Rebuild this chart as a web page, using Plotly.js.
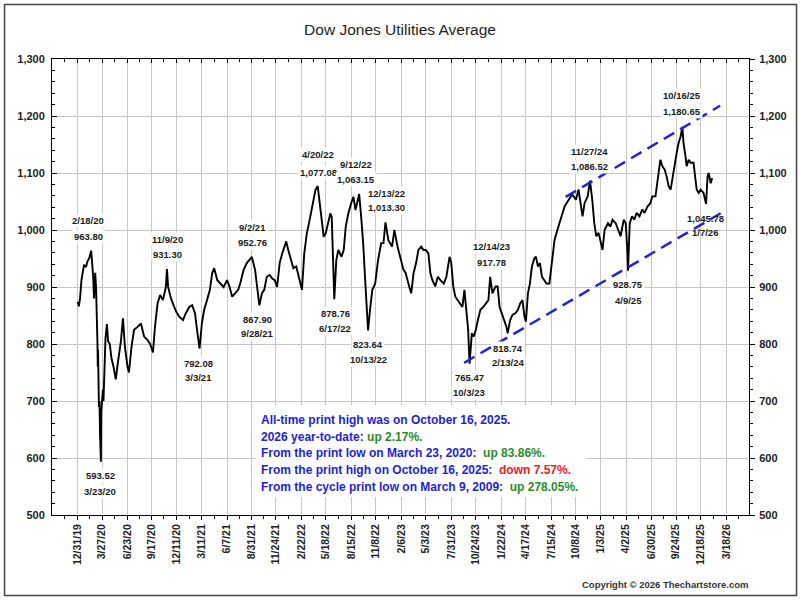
<!DOCTYPE html>
<html><head><meta charset="utf-8">
<script src="https://cdn.plot.ly/plotly-3.0.1.min.js"></script>
<style>html,body{margin:0;padding:0;background:#fff;}#chart{width:800px;height:600px;}</style>
</head><body><div id="chart"></div>
<script>
// ---------- DATA ----------
const dates = [
'2020-01-02','2020-01-06','2020-01-10','2020-01-15','2020-01-24','2020-01-31','2020-02-05','2020-02-11','2020-02-18','2020-02-21',
'2020-02-25','2020-02-28','2020-03-03','2020-03-06','2020-03-09','2020-03-11','2020-03-12','2020-03-13','2020-03-16','2020-03-18',
'2020-03-20','2020-03-23','2020-03-24','2020-03-26','2020-03-30','2020-04-01','2020-04-06','2020-04-08','2020-04-13','2020-04-17',
'2020-04-23','2020-04-29','2020-05-06','2020-05-14','2020-05-22','2020-06-01','2020-06-08','2020-06-15','2020-06-24','2020-06-29',
'2020-07-08','2020-07-17','2020-07-29','2020-08-10','2020-08-21','2020-09-02','2020-09-11','2020-09-21','2020-09-28','2020-10-07',
'2020-10-16','2020-10-26','2020-11-05','2020-11-09','2020-11-13','2020-11-23','2020-12-02','2020-12-11','2020-12-22',
'2021-01-04','2021-01-14','2021-01-26','2021-02-05','2021-02-15','2021-02-22','2021-03-03','2021-03-11','2021-03-19','2021-03-29',
'2021-04-08','2021-04-16','2021-04-23','2021-05-04','2021-05-14','2021-05-26','2021-06-07','2021-06-16','2021-06-25','2021-07-09',
'2021-07-16','2021-07-23','2021-08-04','2021-08-15','2021-09-02','2021-09-13','2021-09-22','2021-09-28','2021-10-07','2021-10-15',
'2021-10-24','2021-11-03','2021-11-12','2021-11-21','2021-11-29','2021-12-08','2021-12-17','2021-12-31',
'2022-01-07','2022-01-17','2022-01-25','2022-02-04','2022-02-11','2022-02-18','2022-02-24','2022-03-04','2022-03-13','2022-03-25',
'2022-04-04','2022-04-12','2022-04-20','2022-04-26','2022-05-03','2022-05-11','2022-05-18','2022-05-27','2022-06-03','2022-06-08',
'2022-06-13','2022-06-17','2022-06-24','2022-07-01','2022-07-12','2022-07-20','2022-07-27','2022-08-05','2022-08-15','2022-08-23',
'2022-08-30','2022-09-08','2022-09-12','2022-09-19','2022-09-26','2022-10-03','2022-10-07','2022-10-13','2022-10-21','2022-10-28',
'2022-11-07','2022-11-17','2022-11-28','2022-12-06','2022-12-13','2022-12-23',
'2023-01-05','2023-01-13','2023-01-24','2023-02-03','2023-02-14','2023-02-21','2023-02-27','2023-03-06','2023-03-13','2023-03-21',
'2023-03-30','2023-04-07','2023-04-17','2023-04-25','2023-05-03','2023-05-12','2023-05-19','2023-05-26','2023-06-05','2023-06-14',
'2023-06-23','2023-07-05','2023-07-14','2023-07-25','2023-07-31','2023-08-07','2023-08-14','2023-08-23','2023-08-31','2023-09-08',
'2023-09-15','2023-09-21','2023-09-28','2023-10-03','2023-10-11','2023-10-18','2023-10-25','2023-11-01','2023-11-10','2023-11-20',
'2023-11-29','2023-12-08','2023-12-14','2023-12-22',
'2024-01-02','2024-01-09','2024-01-16','2024-01-24','2024-02-02','2024-02-09','2024-02-13','2024-02-22','2024-03-01','2024-03-11',
'2024-03-20','2024-03-28','2024-04-05','2024-04-12','2024-04-17','2024-04-24','2024-05-01','2024-05-08','2024-05-16','2024-05-22',
'2024-05-29','2024-06-05','2024-06-12','2024-06-21','2024-06-28','2024-07-08','2024-07-15','2024-07-19','2024-07-26','2024-08-05',
'2024-08-12','2024-08-21','2024-08-30','2024-09-06','2024-09-16','2024-09-25','2024-10-01','2024-10-09','2024-10-18','2024-10-25',
'2024-11-01','2024-11-08','2024-11-19','2024-11-27','2024-12-05','2024-12-12','2024-12-19','2024-12-27',
'2025-01-06','2025-01-10','2025-01-17','2025-01-29','2025-02-06','2025-02-14','2025-02-25','2025-03-06','2025-03-14','2025-03-25',
'2025-04-01','2025-04-07','2025-04-09','2025-04-15','2025-04-23','2025-05-01','2025-05-09','2025-05-19','2025-05-29','2025-06-06',
'2025-06-16','2025-06-26','2025-07-03','2025-07-14','2025-07-21','2025-07-31','2025-08-07','2025-08-15','2025-08-22','2025-08-29',
'2025-09-05','2025-09-12','2025-09-19','2025-09-26','2025-10-03','2025-10-10','2025-10-16','2025-10-20','2025-10-27','2025-10-31',
'2025-11-07','2025-11-14','2025-11-24','2025-11-28','2025-12-05','2025-12-12','2025-12-19','2025-12-29',
'2026-01-07','2026-01-12','2026-01-16','2026-01-23','2026-01-28'
];
const values = [
874,866,880,912,939,935,945,950,963.8,948,
918,880,925,900,854,800,760,790,690,700,
640,593.52,680,700,720,700,770,810,835,805,
800,775,760,738,770,805,845,795,760,750,
795,825,830,836,813,807,800,785,830,871,
886,877,900,931.3,900,880,868,857,848,
842,854,865,868,854,825,792.08,836,860,877,
895,924,933,912,906,900,912,900,883,890,
895,906,930,942,952.76,930,895,867.9,889,895,
918,921,915,912,900,942,959,980,
965,947,933,936,921,906,895,959,994,1023,
1053,1070,1077.08,1053,1023,988,994,1012,1029,1023,
947,878.76,947,965,953,965,1006,1029,1047,1058,
1035,1053,1063.15,1023,977,912,877,823.64,865,895,
906,947,977,977,1013.3,982,
971,1000,971,953,930,925,912,901,889,924,
942,965,971,965,965,959,924,912,901,918,
912,906,918,953,942,901,883,877,871,865,
895,860,825,765.47,819,813,825,842,860,865,
871,877,917.78,889,
901,901,865,854,842,830,818.74,842,851,854,
860,871,877,848,839,889,906,936,950,953,
936,942,918,912,906,906,936,959,982,1000,
1012,1023,1041,1047,1056,1062,1059,1053,1071,1047,
1024,1047,1059,1086.52,1053,1012,989,995,
977,965,1000,1012,1006,1018,1012,1000,989,1018,
1012,960,928.75,1012,1024,1018,1030,1024,1036,1030,
1041,1047,1059,1059,1088,1123,1112,1106,1094,1077,
1071,1094,1112,1135,1153,1164,1180.65,1153,1129,1112,
1123,1118,1118,1100,1071,1065,1071,1065,
1045.78,1094,1100,1082,1091
];
const tickDates = ['2019-12-31','2020-03-27','2020-06-23','2020-09-17','2020-12-11','2021-03-11','2021-06-07','2021-08-31','2021-11-24','2022-02-22','2022-05-18','2022-08-15','2022-11-08','2023-02-06','2023-05-03','2023-07-31','2023-10-24','2024-01-22','2024-04-17','2024-07-15','2024-10-08','2025-01-03','2025-04-02','2025-06-30','2025-09-24','2025-12-18','2026-03-18'];
const tickLabels = ['12/31/19','3/27/20','6/23/20','9/17/20','12/11/20','3/11/21','6/7/21','8/31/21','11/24/21','2/22/22','5/18/22','8/15/22','11/8/22','2/6/23','5/3/23','7/31/23','10/24/23','1/22/24','4/17/24','7/15/24','10/8/24','1/3/25','4/2/25','6/30/25','9/24/25','12/18/25','3/18/26'];
const upperDates = ['2024-09-03','2026-02-25'];
const upperValues = [1058, 1218];
const lowerDates = ['2023-09-14','2026-03-08'];
const lowerValues = [767, 1032];
const markLabels = [
 ['2/18/20','963.80'],['593.52','3/23/20'],['11/9/20','931.30'],['792.08','3/3/21'],
 ['9/2/21','952.76'],['867.90','9/28/21'],['4/20/22','1,077.08'],['878.76','6/17/22'],
 ['9/12/22','1,063.15'],['823.64','10/13/22'],['12/13/22','1,013.30'],['765.47','10/3/23'],
 ['12/14/23','917.78'],['818.74','2/13/24'],['11/27/24','1,086.52'],['928.75','4/9/25'],
 ['10/16/25','1,180.65'],['1,045.78','1/7/26']
];
const infoLines = [
 ['All-time print high was on October 16, 2025.', ''],
 ['2026 year-to-date: ', 'up 2.17%.'],
 ['From the print low on March 23, 2020:\u00a0 ', 'up 83.86%.'],
 ['From the print high on October 16, 2025:\u00a0 ', 'down 7.57%.'],
 ['From the cycle print low on March 9, 2009:\u00a0 ', 'up 278.05%.']
];
const title = 'Dow Jones Utilities Average';
const copyright = 'Copyright \u00a9 2026 Thechartstore.com';

// ---------- STYLE / LAYOUT ----------
const F = 'Arial, "Liberation Sans", sans-serif';
const L = 52, R = 749, T = 59, B = 515;
const W = R - L, H = B - T;
const px = x => (x - L) / W;
const py = y => (B - y) / H;
const xRange = ['2019-10-04', '2026-06-06'];

// minor ticks halfway between labelled ticks
const tms = tickDates.map(d => Date.parse(d));
const minorX = [];
const half0 = (tms[1] - tms[0]) / 2;
minorX.push(new Date(tms[0] - half0).toISOString().slice(0,10));
for (let i = 0; i < tms.length - 1; i++) minorX.push(new Date((tms[i] + tms[i+1]) / 2).toISOString().slice(0,10));
const halfN = (tms[tms.length-1] - tms[tms.length-2]) / 2;
minorX.push(new Date(tms[tms.length-1] + halfN).toISOString().slice(0,10));

const labelPos = [
 [88,220,236],[100,475,491],[167,239,254],[198,363,377],
 [252,227,242],[257,319,333],[318,154,172],[335,313,328],
 [356,164,179],[368,344,359],[386,193,207],[469,377,392],
 [491,247,262],[508,348,362],[589,151,166],[628,284,300],
 [682,96,112],[705,218,233]
];
const annotations = [];
markLabels.forEach((lab, i) => {
  const p = labelPos[i];
  const bg = (i === markLabels.length - 1) ? 'rgba(0,0,0,0)' : '#ffffff';
  [1,2].forEach(k => {
    annotations.push({xref:'paper', yref:'paper', x:px(p[0]), y:py(p[k]), xanchor:'center', yanchor:'middle',
      text: lab[k-1], showarrow:false, bgcolor:bg, borderpad:1,
      font:{family:F, size:9.5, color:'#1a1a1a', weight:'bold'}});
  });
});
const blue = '#1e1ed8', green = '#2a8c2a', red = '#ee1c1c';
const infoY = [420, 437, 453, 470, 487];
infoLines.forEach((ln, i) => {
  const col = i === 3 ? red : green;
  const txt = ln[0] + (ln[1] ? '<span style="color:' + col + '">' + ln[1] + '</span>' : '');
  annotations.push({xref:'paper', yref:'paper', x:px(259), y:py(infoY[i]), xanchor:'left', yanchor:'middle',
    text: txt, showarrow:false, font:{family:F, size:12, color:blue, weight:'bold'}});
});
annotations.push({xref:'paper', yref:'paper', x:px(750), y:py(584), xanchor:'right', yanchor:'middle',
  text: copyright, showarrow:false, font:{family:F, size:9.5, color:'#333', weight:'bold'}});

const tickFontY = {family:F, size:11, color:'#222', weight:'bold'};
const layout = {
  width:800, height:600,
  margin:{l:L, r:800-R, t:T, b:600-B, pad:0},
  paper_bgcolor:'#ffffff', plot_bgcolor:'#ffffff',
  showlegend:false,
  title:{text:title, font:{family:F, size:15.5, color:'#222'}, x:0.5, xref:'container', y:1-30/600, yref:'container', yanchor:'middle', xanchor:'center'},
  xaxis:{type:'date', range:xRange, tickmode:'array', tickvals:tickDates, ticktext:tickLabels, tickangle:-90,
    ticks:'outside', ticklen:4, tickcolor:'#000', showgrid:true, gridcolor:'#c6c6c6', gridwidth:1,
    showline:true, linecolor:'#000', linewidth:1, zeroline:false, fixedrange:true, automargin:false,
    tickfont:{family:F, size:10.5, color:'#222', weight:'bold'},
    minor:{tickmode:'array', tickvals:minorX, ticks:'outside', ticklen:3, tickcolor:'#000', showgrid:false}},
  xaxis2:{type:'date', range:xRange, overlaying:'x', side:'top', anchor:'y2', tickmode:'array', tickvals:tickDates,
    ticks:'inside', ticklen:4, tickcolor:'#000', showticklabels:false, showgrid:false, showline:true, linecolor:'#000',
    zeroline:false, fixedrange:true, automargin:false,
    minor:{tickmode:'array', tickvals:minorX, ticks:'inside', ticklen:3, tickcolor:'#000', showgrid:false}},
  yaxis:{range:[500,1300], tickmode:'linear', tick0:500, dtick:100, tickformat:',d', ticks:'inside', ticklen:5,
    tickcolor:'#000', showgrid:true, gridcolor:'#c6c6c6', gridwidth:1, showline:true, linecolor:'#000',
    zeroline:false, fixedrange:true, automargin:false, tickfont:tickFontY, ticklabelstandoff:4,
    minor:{dtick:20, ticks:'inside', ticklen:3, tickcolor:'#000', showgrid:false}},
  yaxis2:{range:[500,1300], overlaying:'y', side:'right', anchor:'x2', tickmode:'linear', tick0:500, dtick:100,
    tickformat:',d', ticks:'outside', ticklen:5, tickcolor:'#000', showgrid:false, showline:true, linecolor:'#000',
    zeroline:false, fixedrange:true, automargin:false, tickfont:tickFontY, ticklabelstandoff:2,
    minor:{dtick:20, ticks:'outside', ticklen:3, tickcolor:'#000', showgrid:false}},
  shapes:[
    {type:'rect', xref:'paper', yref:'paper', x0:px(256), x1:px(586), y0:py(497), y1:py(405),
     fillcolor:'#ffffff', line:{width:0}, layer:'above'},
    {type:'rect', xref:'paper', yref:'paper', x0:px(4.5), x1:px(796.5), y0:py(595.5), y1:py(4.5),
     fillcolor:'rgba(0,0,0,0)', line:{color:'#444', width:1.5}, layer:'above'}
  ],
  annotations: annotations
};

const traces = [
  {x:dates, y:values, type:'scatter', mode:'lines', line:{color:'#000', width:1.9}, xaxis:'x', yaxis:'y', hoverinfo:'skip'},
  {x:upperDates.concat([null], lowerDates), y:upperValues.concat([null], lowerValues), type:'scatter', mode:'lines',
   line:{color:'#2323d2', width:2.5, dash:'12px,7px'}, connectgaps:false, xaxis:'x2', yaxis:'y2', hoverinfo:'skip'}
];
Plotly.newPlot('chart', traces, layout, {staticPlot:true, displayModeBar:false});
</script>
</body></html>
